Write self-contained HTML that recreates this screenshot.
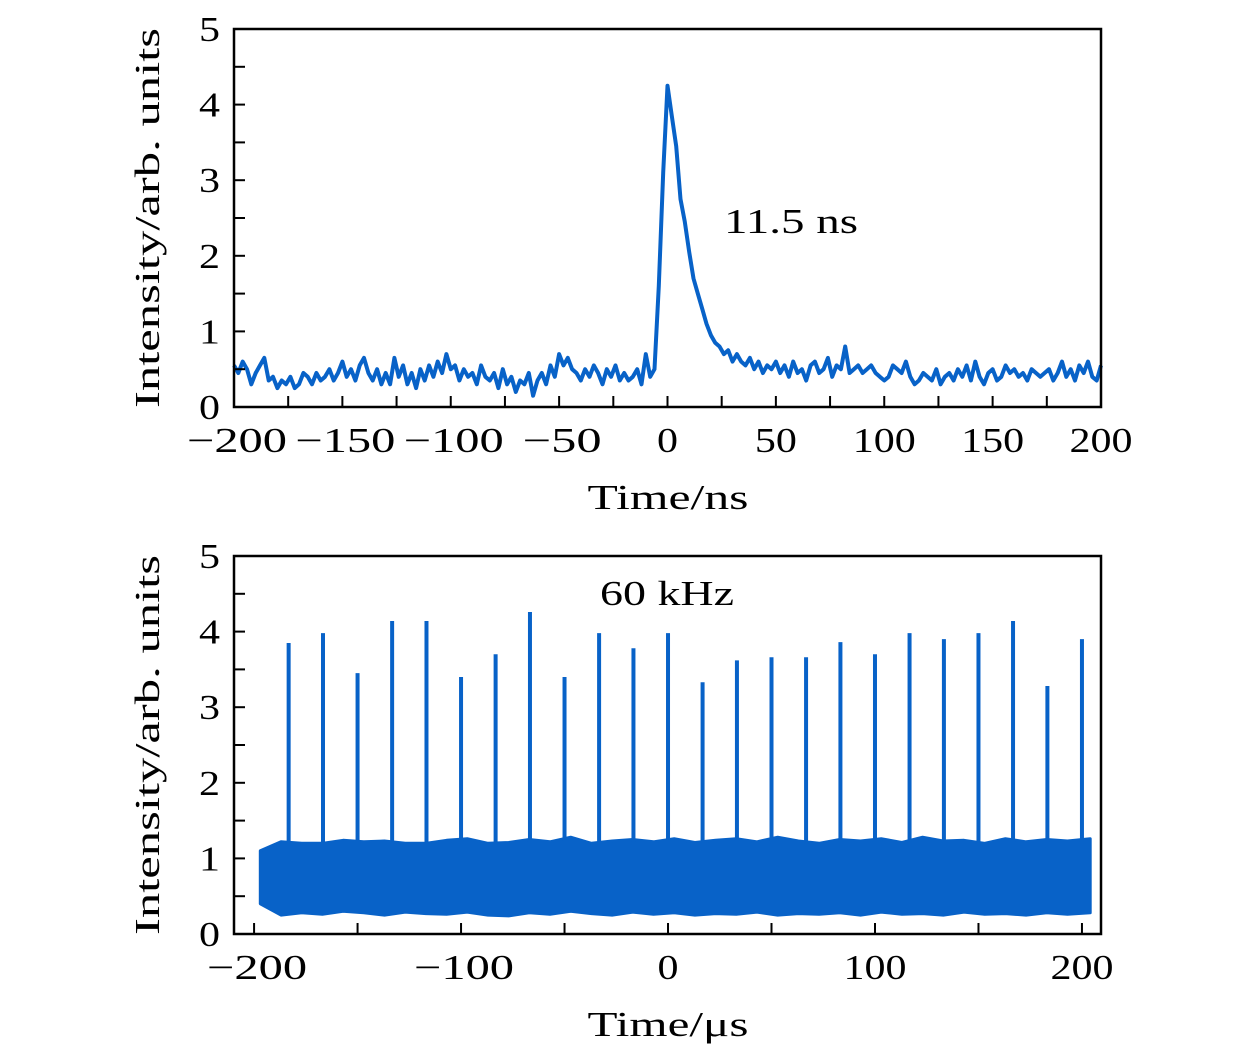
<!DOCTYPE html>
<html><head><meta charset="utf-8"><style>
body{margin:0;background:#fff;}
svg{display:block;font-family:"Liberation Serif",serif;}
</style></head><body>
<svg id="fig" width="1260" height="1055" viewBox="0 0 1260 1055" xmlns="http://www.w3.org/2000/svg"></svg>
<script>
// ---- top panel data (t from -200 ns step 2 ns) ----
const topStart = -200;
const topStep = 2;
const topValues = [
0.55,0.45,0.6,0.5,0.3,0.45,0.55,0.65,0.35,0.4,
0.25,0.35,0.3,0.4,0.25,0.3,0.45,0.4,0.3,0.45,
0.35,0.4,0.5,0.35,0.45,0.6,0.4,0.5,0.35,0.55,
0.65,0.45,0.35,0.5,0.3,0.45,0.3,0.65,0.4,0.55,
0.3,0.45,0.25,0.5,0.35,0.55,0.4,0.6,0.45,0.7,
0.5,0.55,0.35,0.5,0.4,0.45,0.3,0.55,0.4,0.35,
0.45,0.25,0.5,0.3,0.4,0.2,0.35,0.3,0.45,0.15,
0.35,0.45,0.3,0.55,0.4,0.7,0.55,0.65,0.5,0.45,
0.35,0.5,0.4,0.55,0.45,0.3,0.5,0.4,0.55,0.35,
0.45,0.35,0.4,0.5,0.3,0.7,0.4,
0.5,1.6,3.1,4.25,3.85,3.45,2.75,2.45,2.05,1.7,
1.5,1.3,1.1,0.95,0.85,0.8,0.7,0.75,0.6,0.7,
0.6,0.55,0.65,0.5,0.6,0.45,0.55,0.5,0.6,0.45,
0.55,0.4,0.6,0.45,0.5,0.35,0.55,0.6,0.45,0.5,
0.65,0.4,0.55,0.5,0.8,0.45,0.5,0.55,0.45,0.5,
0.55,0.45,0.4,0.35,0.4,0.55,0.5,0.45,0.6,0.4,
0.3,0.35,0.45,0.4,0.35,0.5,0.3,0.4,0.45,0.35,
0.5,0.4,0.55,0.35,0.6,0.4,0.3,0.45,0.5,0.35,
0.4,0.55,0.45,0.5,0.4,0.45,0.35,0.5,0.45,0.4,
0.45,0.5,0.35,0.45,0.6,0.4,0.5,0.35,0.55,0.45,
0.6,0.4,0.35,0.55];
const topXTicks = [-200,-150,-100,-50,0,50,100,150,200];
const topXTickLabels = ["\u2212200","\u2212150","\u2212100","\u221250","0","50","100","150","200"];
const yTicks = [0,1,2,3,4,5];
const yTickLabels = ["0","1","2","3","4","5"];

// ---- bottom panel data ----
const spikeTimes = [-183.3,-166.7,-150,-133.3,-116.7,-100,-83.3,-66.7,-50,-33.3,-16.7,0,16.7,33.3,50,66.7,83.3,100,116.7,133.3,150,166.7,183.3,200];
const spikeHeights = [3.85,3.98,3.45,4.14,4.14,3.4,3.7,4.26,3.4,3.98,3.78,3.98,3.33,3.62,3.66,3.66,3.86,3.7,3.98,3.9,3.98,4.14,3.28,3.9];
const bandTimes = [-197,-187,-177,-167,-157,-147,-137,-127,-117,-107,-97,-87,-77,-67,-57,-47,-37,-27,-17,-7,3,13,23,33,43,53,63,73,83,93,103,113,123,133,143,153,163,173,183,193,204];
const bandUpper = [1.1,1.22,1.2,1.2,1.24,1.22,1.23,1.2,1.2,1.24,1.26,1.2,1.21,1.25,1.22,1.28,1.2,1.23,1.25,1.22,1.26,1.21,1.24,1.26,1.22,1.28,1.23,1.2,1.25,1.23,1.26,1.21,1.28,1.23,1.24,1.2,1.26,1.22,1.25,1.23,1.26];
const bandLower = [0.4,0.25,0.28,0.26,0.3,0.28,0.25,0.29,0.27,0.26,0.29,0.25,0.24,0.28,0.26,0.3,0.27,0.25,0.29,0.26,0.28,0.25,0.27,0.26,0.29,0.25,0.27,0.26,0.28,0.25,0.29,0.26,0.27,0.25,0.29,0.26,0.27,0.25,0.28,0.26,0.28];
const botXTicks = [-200,-100,0,100,200];
const botXTickLabels = ["\u2212200","\u2212100","0","100","200"];

const NS = "http://www.w3.org/2000/svg";
const svg = document.getElementById('fig');
const COLOR = "#0862c8";
const FS = 35;
function mk(tag, attrs, parent){const e=document.createElementNS(NS,tag);for(const k in attrs)e.setAttribute(k,attrs[k]);(parent||svg).appendChild(e);return e;}
function labelWidth(s){let w=0;for(const c of s){w+= (c==='\u2212')?37:21;}return w;}

function panel(x0, x1, y0, y1, dmin, dmax){
  const sx = v => x0 + (v-dmin)/(dmax-dmin)*(x1-x0);
  const sy = v => y1 - v/5*(y1-y0);
  return {sx, sy, x0, x1, y0, y1};
}
const P1 = panel(234,1101,29,407,-200,200);
const P2 = panel(234,1101,556,934,-209.7,209.2);

function axes(P, xt, xl, minorStep, xmin, xmax, title, pname){
  const g = mk('g',{});
  
  
  const r = mk('rect',{x:P.x0,y:P.y0,width:P.x1-P.x0,height:P.y1-P.y0,fill:'none',stroke:'#000','stroke-width':2.5},g);
  
  
  for(let v=Math.ceil(xmin/minorStep)*minorStep; v<=xmax; v+=minorStep){
    const x=P.sx(v); if(x<P.x0+2||x>P.x1-2) continue;
    const t = mk('line',{x1:x,x2:x,y1:P.y1,y2:P.y1-11,stroke:'#000','stroke-width':2},g);
    
    
  }
  xt.forEach((v,i)=>{
    const s = xl[i];
    const w = labelWidth(s);
    const t = mk('text',{x:P.sx(v)+(s.startsWith('\u2212')?3:0),y:P.y1+45,'font-size':FS,'text-anchor':'middle',fill:'#000',textLength:w,lengthAdjust:'spacingAndGlyphs'},g);
    t.textContent = s;
    
    
  });
  for(let v=0.5; v<5; v+=0.5){
    const y=P.sy(v);
    const t = mk('line',{x1:P.x0,x2:P.x0+11,y1:y,y2:y,stroke:'#000','stroke-width':2},g);
    
    
  }
  yTicks.forEach((v,i)=>{
    const t = mk('text',{x:P.x0-14,y:P.sy(v)+12,'font-size':FS,'text-anchor':'end',fill:'#000',textLength:21,lengthAdjust:'spacingAndGlyphs'},g);
    t.textContent = yTickLabels[i];
    
    
  });
  const xt2 = mk('text',{x:668,y:P.y1+102,'font-size':FS,'text-anchor':'middle',fill:'#000',textLength:161,lengthAdjust:'spacingAndGlyphs'},g);
  xt2.textContent = title;
  
  
  const cy=(P.y0+P.y1)/2;
  const yt = mk('text',{x:159,y:cy,'font-size':FS,'text-anchor':'middle',fill:'#000',transform:`rotate(-90 159 ${cy})`,textLength:380,lengthAdjust:'spacingAndGlyphs'},g);
  yt.textContent = 'Intensity/arb. units';
  
  
}

// top series
let d = '';
topValues.forEach((v,i)=>{const t=topStart+i*topStep; d+=(i?'L':'M')+P1.sx(t).toFixed(1)+' '+P1.sy(v).toFixed(1);});
const ln = mk('path',{d:d,fill:'none',stroke:COLOR,'stroke-width':4,'stroke-linejoin':'round'});



// bottom band
let bd='';
bandTimes.forEach((t,i)=>{bd+=(i?'L':'M')+P2.sx(t).toFixed(1)+' '+P2.sy(bandUpper[i]).toFixed(1);});
for(let i=bandTimes.length-1;i>=0;i--){bd+='L'+P2.sx(bandTimes[i]).toFixed(1)+' '+P2.sy(bandLower[i]).toFixed(1);}
bd+='Z';
const band = mk('path',{d:bd,fill:COLOR,stroke:COLOR,'stroke-width':3,'stroke-linejoin':'round'});


spikeTimes.forEach((t,i)=>{
  const s = mk('line',{x1:P2.sx(t),x2:P2.sx(t),y1:P2.sy(0.9),y2:P2.sy(spikeHeights[i]),stroke:COLOR,'stroke-width':4});
  
  
});

axes(P1, topXTicks, topXTickLabels, 25, -200, 200, 'Time/ns', 'top');
axes(P2, botXTicks, botXTickLabels, 50, -209, 209, 'Time/\u03bcs', 'bottom');

const a1 = mk('text',{x:724,y:233,'font-size':FS,fill:'#000',textLength:134,lengthAdjust:'spacingAndGlyphs'});
a1.textContent='11.5 ns';


const a2 = mk('text',{x:600,y:605,'font-size':FS,fill:'#000',textLength:134,lengthAdjust:'spacingAndGlyphs'});
a2.textContent='60 kHz';


</script>
</body></html>
